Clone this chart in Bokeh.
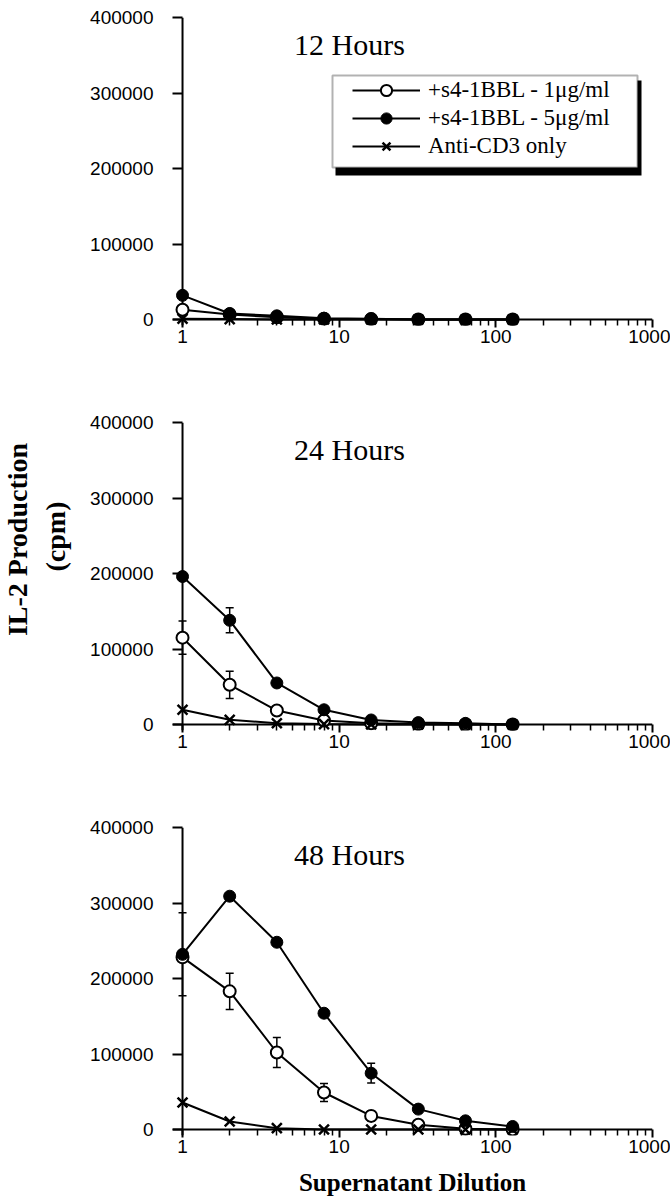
import numpy as np
from bokeh.plotting import figure
from bokeh.models import (Range1d, FixedTicker, PrintfTickFormatter, Span,
                          Legend, LegendItem, Label, BoxAnnotation, Whisker, ColumnDataSource, TeeHead)
from bokeh.layouts import column, row
from bokeh.embed import file_html
from bokeh.resources import INLINE

# ---------------- data ----------------
dilution = [1, 2, 4, 8, 16, 32, 64, 128]
series_labels = ["+s4-1BBL - 1\u03bcg/ml", "+s4-1BBL - 5\u03bcg/ml", "Anti-CD3 only"]
panel_titles = ["12 Hours", "24 Hours", "48 Hours"]
y_ticks = [0, 100000, 200000, 300000, 400000]
x_ticks = [1, 10, 100, 1000]
x_title = "Supernatant Dilution"
y_title = ["IL-2 Production", "(cpm)"]

h12_low = [13000, 6500, 3000, 1000, 500, 0, 0, 0]
h12_low_err = [0, 0, 0, 0, 0, 0, 0, 0]
h12_high = [32000, 8000, 4900, 1700, 1000, 0, 0, 0]
h12_high_err = [0, 0, 0, 0, 0, 0, 0, 0]
h12_cd3 = [1000, 500, 0, 0, 0, 0, 0, 0]

h24_low = [115000, 52600, 18500, 5300, 1500, 500, 0, 0]
h24_low_err = [22000, 18000, 6000, 0, 0, 0, 0, 0]
h24_high = [196000, 138000, 55000, 19500, 6000, 2500, 1500, 0]
h24_high_err = [0, 16500, 3000, 0, 0, 0, 0, 0]
h24_cd3 = [19500, 6200, 1700, 500, 0, 0, 0, 0]

h48_low = [228000, 183000, 102000, 49000, 18000, 6200, 1000, 0]
h48_low_err = [0, 24000, 20000, 12000, 6600, 0, 0, 0]
h48_high = [232000, 309000, 248000, 154000, 74600, 27000, 11500, 4000]
h48_high_err = [55000, 3000, 0, 0, 13000, 0, 0, 0]
h48_cd3 = [35800, 10600, 1800, 0, 0, 0, 0, 0]

x_minor = [m * d for d in (1, 10, 100) for m in range(2, 10)]

FRAME_H = 308
TOTAL_H = 1199
YFIG_W = 80
MAIN_W = 590


def whisker_for(p, xs, ys, errs):
    b = [x for x, e in zip(xs, errs) if e > 0]
    up = [y + e for y, e in zip(ys, errs) if e > 0]
    lo = [y - e for y, e in zip(ys, errs) if e > 0]
    if not b:
        return
    src = ColumnDataSource(dict(base=b, upper=up, lower=lo))
    w = Whisker(source=src, base="base", upper="upper", lower="lower",
                line_color="black", line_width=1.5,
                upper_head=TeeHead(size=8, line_width=1.5, line_color="black"),
                lower_head=TeeHead(size=8, line_width=1.5, line_color="black"))
    p.add_layout(w)


def make_panel(title, low, low_err, high, high_err, cd3, height, legend=False, xlabel=None):
    p = figure(width=MAIN_W, height=height, x_axis_type="log",
               x_range=Range1d(0.863, 1000), y_range=Range1d(-7947, 400000),
               min_border_left=92, min_border_right=18, min_border_top=17,
               min_border_bottom=height - 17 - FRAME_H,
               output_backend="svg", toolbar_location=None)
    p.grid.visible = False
    p.outline_line_color = None
    p.background_fill_color = "white"

    xa = p.xaxis[0]
    ya = p.yaxis[0]
    xa.ticker = FixedTicker(ticks=x_ticks, minor_ticks=x_minor)
    xa.formatter = PrintfTickFormatter(format="%d")
    ya.ticker = FixedTicker(ticks=y_ticks)
    ya.formatter = PrintfTickFormatter(format="%d")
    for ax in (xa, ya):
        ax.axis_line_color = None
        ax.major_tick_line_width = 2
        ax.major_tick_line_color = "black"
        ax.minor_tick_line_width = 1.5
        ax.minor_tick_line_color = "black"
        ax.major_label_text_font = "Liberation Sans"
        ax.major_label_text_font_size = "19px"
        ax.major_label_text_color = "black"
    xa.major_tick_in = 6
    xa.major_tick_out = 2
    xa.minor_tick_in = 6
    xa.minor_tick_out = 0
    xa.major_label_standoff = 2
    ya.major_tick_in = 10
    ya.major_tick_out = 0
    ya.minor_tick_line_color = None
    ya.major_label_standoff = 19
    if xlabel:
        xa.axis_label = xlabel
        xa.axis_label_text_font = "Liberation Serif"
        xa.axis_label_text_font_style = "bold"
        xa.axis_label_text_font_size = "25px"
        xa.axis_label_text_color = "black"
        xa.axis_label_standoff = 13

    # axis lines through x=1 and y=0
    p.add_layout(Span(location=1, dimension="height", line_color="black", line_width=2, level="underlay"))
    p.add_layout(Span(location=0, dimension="width", line_color="black", line_width=2, level="underlay"))

    whisker_for(p, dilution, low, low_err)
    whisker_for(p, dilution, high, high_err)

    src = ColumnDataSource(dict(x=dilution, low=low, high=high, cd3=cd3))
    l_cd3 = p.line("x", "cd3", source=src, line_color="black", line_width=2)
    l_low = p.line("x", "low", source=src, line_color="black", line_width=2)
    l_high = p.line("x", "high", source=src, line_color="black", line_width=2)
    s_low = p.scatter("x", "low", source=src, marker="circle", size=12,
                      fill_color="white", line_color="black", line_width=2)
    s_cd3 = p.scatter("x", "cd3", source=src, marker="x", size=14,
                      line_color="black", line_width=2.5)
    s_high = p.scatter("x", "high", source=src, marker="circle", size=12,
                       fill_color="black", line_color="black", line_width=1)

    p.add_layout(Label(x=177, y=281, x_units="screen", y_units="screen", text=title,
                       text_align="center", text_baseline="middle",
                       text_font="Liberation Serif", text_font_size="30px",
                       text_color="black"))

    if legend:
        shadow = BoxAnnotation(left=163, right=469, top=245, bottom=150,
                               left_units="screen", right_units="screen",
                               top_units="screen", bottom_units="screen",
                               fill_color="black", fill_alpha=1, line_color=None)
        box = BoxAnnotation(left=160, right=465, top=250, bottom=158,
                            left_units="screen", right_units="screen",
                            top_units="screen", bottom_units="screen",
                            fill_color="white", fill_alpha=1,
                            line_color="black", line_width=2)
        p.add_layout(shadow)
        p.add_layout(box)
        lg = Legend(items=[LegendItem(label=series_labels[0], renderers=[l_low, s_low]),
                           LegendItem(label=series_labels[1], renderers=[l_high, s_high]),
                           LegendItem(label=series_labels[2], renderers=[l_cd3, s_cd3])],
                    location=(180, 165), padding=0, margin=0, spacing=-4,
                    glyph_width=68, glyph_height=28, label_height=24, label_standoff=8,
                    label_text_font="Liberation Serif", label_text_font_size="23px",
                    label_text_color="black", background_fill_alpha=0,
                    border_line_color=None)
        p.add_layout(lg)
    return p


p1 = make_panel(panel_titles[0], h12_low, h12_low_err, h12_high, h12_high_err, h12_cd3, 405, legend=True)
p2 = make_panel(panel_titles[1], h24_low, h24_low_err, h24_high, h24_high_err, h24_cd3, 405)
p3 = make_panel(panel_titles[2], h48_low, h48_low_err, h48_high, h48_high_err, h48_cd3,
                TOTAL_H - 810, xlabel=x_title)

# shared y-axis title in its own narrow canvas
yfig = figure(width=YFIG_W, height=TOTAL_H, x_range=Range1d(0, 1), y_range=Range1d(0, 1),
              x_axis_location=None, y_axis_location=None, min_border=0,
              output_backend="svg", toolbar_location=None)
yfig.grid.visible = False
yfig.outline_line_color = None
yfig.add_layout(Label(x=17, y=TOTAL_H - 539, x_units="screen", y_units="screen", text=y_title[0],
                      angle=np.pi / 2, text_align="center", text_baseline="middle",
                      text_font="Liberation Serif", text_font_style="bold",
                      text_font_size="28px", text_color="black"))
yfig.add_layout(Label(x=55, y=TOTAL_H - 536, x_units="screen", y_units="screen", text=y_title[1],
                      angle=np.pi / 2, text_align="center", text_baseline="middle",
                      text_font="Liberation Serif", text_font_style="bold",
                      text_font_size="28px", text_color="black"))

layout = row(yfig, column(p1, p2, p3, spacing=0), spacing=0)
open("out.html", "w").write(file_html(layout, INLINE))
